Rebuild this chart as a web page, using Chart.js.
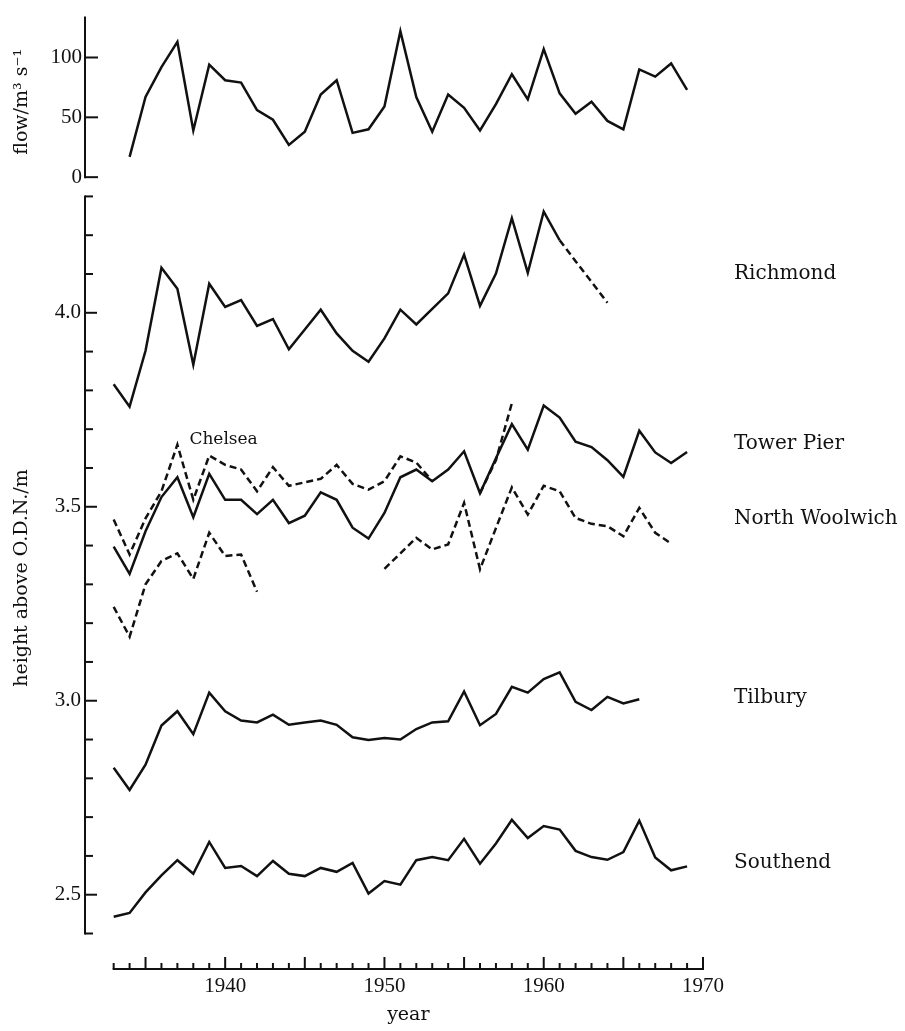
<!DOCTYPE html>
<html>
<head>
<meta charset="utf-8">
<script src="https://cdn.jsdelivr.net/npm/chart.js@4.4.1/dist/chart.umd.min.js"></script>
<style>
  html, body { margin: 0; padding: 0; background: #fff; }
</style>
</head>
<body>
<canvas id="grafico" width="905" height="1031"></canvas>
<script>
// Dados (anos 1933-1969)
const anos = [];
for (let a = 1933; a <= 1969; a++) anos.push(a);

const vazao = [null, 17, 67, 92, 113, 39, 94, 81, 79, 56, 48, 27, 38, 69, 81, 37, 40, 59, 122, 67,
  38, 69, 58, 39, 61, 86, 65, 107, 70, 53, 63, 47, 40, 90, 84, 95, 73];

const richmond = [3.816, 3.758, 3.902, 4.116, 4.062, 3.866, 4.075, 4.015, 4.033, 3.966,
  3.984, 3.906, 3.957, 4.008, 3.947, 3.902, 3.874, 3.934, 4.008, 3.970,
  4.010, 4.050, 4.150, 4.018, 4.101, 4.244, 4.103, 4.261, 4.187, null,
  null, null, null, null, null, null, null];
const richmondEstimado = [null, null, null, null, null, null, null, null, null, null,
  null, null, null, null, null, null, null, null, null, null,
  null, null, null, null, null, null, null, null, 4.187, 4.133,
  4.080, 4.026, null, null, null, null, null];

const chelsea = [3.467, 3.377, 3.470, 3.540, 3.660, 3.518, 3.632, 3.608, 3.596, 3.540,
  3.602, 3.554, 3.563, 3.572, 3.608, 3.559, 3.544, 3.566, 3.630, 3.614,
  3.566, null, null, 3.535, 3.620, 3.767, null, null, null, null,
  null, null, null, null, null, null, null];

const towerPier = [3.397, 3.327, 3.437, 3.525, 3.576, 3.473, 3.585, 3.518, 3.518, 3.481,
  3.518, 3.458, 3.477, 3.537, 3.518, 3.446, 3.418, 3.484, 3.576, 3.596,
  3.566, 3.596, 3.643, 3.535, 3.625, 3.713, 3.647, 3.761, 3.730, 3.668,
  3.654, 3.620, 3.577, 3.696, 3.640, 3.613, 3.641];

const northWoolwich = [3.242, 3.165, 3.300, 3.360, 3.380, 3.314, 3.433, 3.373, 3.377, 3.281,
  null, null, null, null, null, null, null, 3.340, 3.380, 3.420,
  3.390, 3.403, 3.510, 3.339, 3.445, 3.550, 3.480, 3.554, 3.540, 3.471,
  3.456, 3.450, 3.424, 3.497, 3.433, 3.405, null];

const tilbury = [2.827, 2.770, 2.835, 2.936, 2.973, 2.914, 3.021, 2.973, 2.949, 2.944,
  2.964, 2.938, 2.944, 2.949, 2.938, 2.906, 2.899, 2.904, 2.900, 2.927,
  2.944, 2.947, 3.024, 2.937, 2.966, 3.036, 3.021, 3.056, 3.073, 2.997,
  2.976, 3.010, 2.993, 3.004, null, null, null];

const southend = [2.443, 2.453, 2.506, 2.550, 2.589, 2.554, 2.636, 2.569, 2.574, 2.548,
  2.587, 2.554, 2.548, 2.569, 2.559, 2.582, 2.503, 2.535, 2.526, 2.589,
  2.597, 2.589, 2.644, 2.580, 2.632, 2.693, 2.646, 2.677, 2.668, 2.613,
  2.597, 2.590, 2.610, 2.691, 2.596, 2.563, 2.573];

// Rótulos dos eixos
const ticksVazao = [0, 50, 100];
const ticksAltura = [2.5, 3.0, 3.5, 4.0];
const ticksAno = [1940, 1950, 1960, 1970];

const estacoes = ['Richmond', 'Tower Pier', 'North Woolwich', 'Tilbury', 'Southend'];
const nivelEstacoes = [4.1, 3.662, 3.468, 3.008, 2.583];

// Estilo
const cor = '#111';
const tracejado = [7, 4];
const fonteNum = { family: 'Liberation Serif', size: 21 };
const fonteTexto = { family: 'DejaVu Serif', size: 19 };

function serie(valores) {
  return anos.map((a, i) => ({ x: a, y: valores[i] }));
}

function linha(valores, eixo, dash) {
  return {
    data: serie(valores),
    yAxisID: eixo,
    borderColor: cor,
    borderWidth: 2.5,
    borderDash: dash || [],
    pointRadius: 0,
    tension: 0,
    spanGaps: false,
    fill: false
  };
}

// Eixos desenhados à mão (linhas e marcas), posições vindas das escalas
const eixosManuais = {
  id: 'eixosManuais',
  afterDraw(chart) {
    const { ctx, chartArea } = chart;
    const { x, yVazao, yAltura } = chart.scales;
    const x0 = chartArea.left;
    ctx.save();
    ctx.strokeStyle = cor;
    ctx.lineWidth = 2;
    const seg = (a, b, c, d) => { ctx.beginPath(); ctx.moveTo(a, b); ctx.lineTo(c, d); ctx.stroke(); };

    // eixo da vazão
    seg(x0, chartArea.top, x0, yVazao.getPixelForValue(0) + 1);
    ticksVazao.forEach(v => {
      const py = yVazao.getPixelForValue(v);
      seg(x0, py, x0 + 13, py);
    });

    // eixo da altura
    seg(x0, yAltura.getPixelForValue(4.3) - 1, x0, yAltura.getPixelForValue(2.4) + 1);
    for (let k = 24; k <= 43; k++) {
      const py = yAltura.getPixelForValue(k / 10);
      seg(x0, py, x0 + (k % 5 === 0 ? 12 : 8), py);
    }

    // eixo dos anos
    const yb = chartArea.bottom;
    seg(x.getPixelForValue(1933) - 1, yb, x.getPixelForValue(1970) + 1, yb);
    for (let a = 1933; a <= 1970; a++) {
      const px = x.getPixelForValue(a);
      seg(px, yb, px, yb - (a % 5 === 0 ? 12 : 6));
    }

    // textos
    ctx.fillStyle = cor;
    ctx.textBaseline = 'middle';
    ctx.textAlign = 'left';
    ctx.font = '20px "DejaVu Serif"';
    estacoes.forEach((nome, i) => {
      ctx.fillText(nome, 734, yAltura.getPixelForValue(nivelEstacoes[i]));
    });
    ctx.textAlign = 'center';
    ctx.font = '17px "DejaVu Serif"';
    ctx.fillText('Chelsea', x.getPixelForValue(1939.9), yAltura.getPixelForValue(3.674));
    ctx.font = '19px "DejaVu Serif"';
    ctx.fillText('year', (x.getPixelForValue(1933) + x.getPixelForValue(1970)) / 2, 1015);
    ctx.restore();
  }
};

const semGrade = { display: false, drawTicks: false, tickLength: 0 };

const ctx = document.getElementById('grafico').getContext('2d');
new Chart(ctx, {
  type: 'line',
  data: {
    datasets: [
      linha(vazao, 'yVazao'),
      linha(richmond, 'yAltura'),
      linha(richmondEstimado, 'yAltura', tracejado),
      linha(chelsea, 'yAltura', tracejado),
      linha(towerPier, 'yAltura'),
      linha(northWoolwich, 'yAltura', tracejado),
      linha(tilbury, 'yAltura'),
      linha(southend, 'yAltura')
    ]
  },
  options: {
    responsive: false,
    animation: false,
    layout: { padding: { top: 14, right: 202, bottom: 0, left: 0 } },
    plugins: { legend: { display: false }, tooltip: { enabled: false } },
    scales: {
      x: {
        type: 'linear',
        min: 1931.2,
        max: 1970,
        afterBuildTicks: s => { s.ticks = ticksAno.map(v => ({ value: v })); },
        afterFit: s => { s.height = 62; },
        grid: semGrade,
        border: { display: false },
        ticks: { font: fonteNum, color: cor, padding: 5, maxRotation: 0, autoSkip: false, callback: v => String(v) }
      },
      yVazao: {
        type: 'linear',
        position: 'left',
        stack: 'alturas',
        stackWeight: 171,
        weight: 2,
        min: -8.33,
        max: 134.17,
        afterBuildTicks: s => { s.ticks = ticksVazao.map(v => ({ value: v })); },
        afterFit: s => { s.width = 85; },
        grid: semGrade,
        border: { display: false },
        ticks: { font: fonteNum, color: cor, padding: 3, callback: v => String(v) },
        title: { display: true, text: 'flow/m³ s⁻¹', font: fonteTexto, color: cor, padding: { top: 11, bottom: 0 } }
      },
      yAltura: {
        type: 'linear',
        position: 'left',
        stack: 'alturas',
        stackWeight: 784,
        weight: 1,
        min: 2.3085,
        max: 4.3239,
        afterBuildTicks: s => { s.ticks = ticksAltura.map(v => ({ value: v })); },
        afterFit: s => { s.width = 85; },
        grid: semGrade,
        border: { display: false },
        ticks: { font: fonteNum, color: cor, padding: 4, callback: v => v.toFixed(1) },
        title: { display: true, text: 'height above O.D.N./m', font: fonteTexto, color: cor, padding: { top: 11, bottom: 0 } }
      }
    }
  },
  plugins: [eixosManuais]
});
</script>
</body>
</html>
